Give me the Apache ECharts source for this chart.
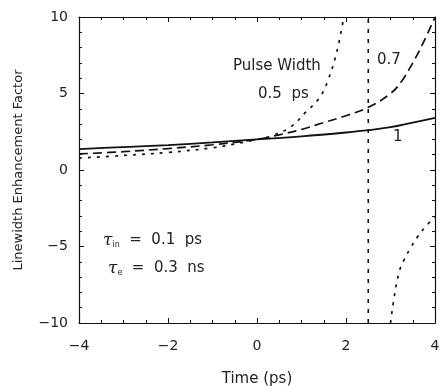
<!DOCTYPE html>
<html><head><meta charset="utf-8">
<script src="https://cdn.jsdelivr.net/npm/echarts@6/dist/echarts.min.js"></script>
<style>html,body{margin:0;padding:0;background:#fff}#c{width:440px;height:387px}</style>
</head><body><div id="c"></div>
<script>
// Data
var xTicks = [-4, -2, 0, 2, 4];
var yTicks = [-10, -5, 0, 5, 10];
var w1X = [-4, -3, -2, -1, 0, 1, 2, 2.5, 3, 3.5, 4];
var w1Y = [1.37, 1.5, 1.63, 1.8, 2.0, 2.2, 2.45, 2.6, 2.8, 3.1, 3.4];
var w07X = [-4, -3, -2, -1, 0, 0.5, 1, 1.5, 2, 2.5, 3, 3.25, 3.5, 3.75, 4];
var w07Y = [1.05, 1.2, 1.4, 1.65, 2.0, 2.3, 2.65, 3.1, 3.55, 4.1, 5.0, 5.8, 7.0, 8.4, 10];
var w05X = [-4, -3, -2, -1, -0.5, 0, 0.3, 0.75, 1.1, 1.4, 1.6, 1.8, 1.95];
var w05Y = [0.78, 0.95, 1.15, 1.45, 1.7, 2.0, 2.2, 2.8, 3.8, 4.7, 5.9, 7.8, 10];
var w05bX = [3.0, 3.1, 3.2, 3.3, 3.45, 3.6, 3.82, 4];
var w05bY = [-10, -8.0, -6.6, -5.9, -5.1, -4.4, -3.6, -3.1];
var poleX = [2.5, 2.5];
var poleY = [-10, 10];

function pairs(xs, ys){ return xs.map(function(x,i){return [x, ys[i]];}); }
function fmt(v){ return String(v).replace('-', '\u2212'); }

var FONT = '"DejaVu Sans", sans-serif';
var chart = echarts.init(document.getElementById('c'), null, {renderer:'canvas'});
var axCommon = {
  type:'value', splitLine:{show:false},
  axisLine:{show:true, onZero:false, lineStyle:{color:'#111', width:1.2}},
  axisTick:{show:true, inside:true, length:5, lineStyle:{color:'#111', width:1}},
  minorTick:{show:true, length:3, lineStyle:{color:'#111', width:1}}
};
function lineS(data, dash, width){
  return {type:'line', data:data, showSymbol:false, smooth:0.4, silent:true,
    lineStyle:{color:'#111', width:width||1.6, type:dash}, xAxisIndex:0, yAxisIndex:0, animation:false};
}
var option = {
  animation:false,
  grid:{left:79, right:5, top:17, bottom:64, containLabel:false, outerBoundsMode:'none'},
  xAxis:[
    Object.assign({}, axCommon, {min:-4, max:4, interval:2, position:'bottom',
      minorTick:Object.assign({}, axCommon.minorTick, {splitNumber:4}),
      axisLabel:{margin:16, fontSize:14, color:'#222', fontFamily:FONT, formatter:fmt},
      name:'Time (ps)', nameLocation:'middle', nameGap:49,
      nameTextStyle:{fontSize:15, color:'#222', fontFamily:FONT}}),
    Object.assign({}, axCommon, {min:-4, max:4, interval:2, position:'top',
      minorTick:Object.assign({}, axCommon.minorTick, {splitNumber:4}),
      axisLabel:{show:false}})
  ],
  yAxis:[
    Object.assign({}, axCommon, {min:-10, max:10, interval:5, position:'left',
      minorTick:Object.assign({}, axCommon.minorTick, {splitNumber:5}),
      axisLabel:{margin:11, fontSize:14, color:'#222', fontFamily:FONT, formatter:fmt},
      name:'Linewidth Enhancement Factor', nameLocation:'middle', nameGap:54,
      nameTextStyle:{fontSize:13, color:'#222', fontFamily:FONT}}),
    Object.assign({}, axCommon, {min:-10, max:10, interval:5, position:'right',
      minorTick:Object.assign({}, axCommon.minorTick, {splitNumber:5}),
      axisLabel:{show:false}})
  ],
  series:[
    lineS(pairs(w1X, w1Y), 'solid', 1.8),
    lineS(pairs(w07X, w07Y), [9,5], 1.7),
    lineS(pairs(w05X, w05Y), [3,6], 1.7),
    lineS(pairs(w05bX, w05bY), [3,6], 1.7),
    Object.assign(lineS(pairs(poleX, poleY), [4,6], 1.6), {smooth:false})
  ],
  graphic:[
    {type:'text', left:233, top:59, style:{text:'Pulse Width', font:'15px '+FONT, fill:'#222'}},
    {type:'text', left:258, top:87, style:{text:'0.5  ps', font:'15px '+FONT, fill:'#222'}},
    {type:'text', left:377, top:53, style:{text:'0.7', font:'15px '+FONT, fill:'#222'}},
    {type:'text', left:393, top:130, style:{text:'1', font:'15px '+FONT, fill:'#222'}},
    {type:'text', left:103, top:232, style:{
      rich:{t:{font:'italic 17px "DejaVu Serif", serif', fill:'#222'}, s:{font:'8px '+FONT, fill:'#222', padding:[8,0,0,0]}, n:{font:'15px '+FONT, fill:'#222'}},
      text:'{t|\u03c4}{s|in}{n|  =  0.1  ps}'}},
    {type:'text', left:108, top:260, style:{
      rich:{t:{font:'italic 17px "DejaVu Serif", serif', fill:'#222'}, s:{font:'8px '+FONT, fill:'#222', padding:[8,0,0,0]}, n:{font:'15px '+FONT, fill:'#222'}},
      text:'{t|\u03c4}{s|e}{n|  =  0.3  ns}'}}
  ]
};
chart.setOption(option);
</script></body></html>
